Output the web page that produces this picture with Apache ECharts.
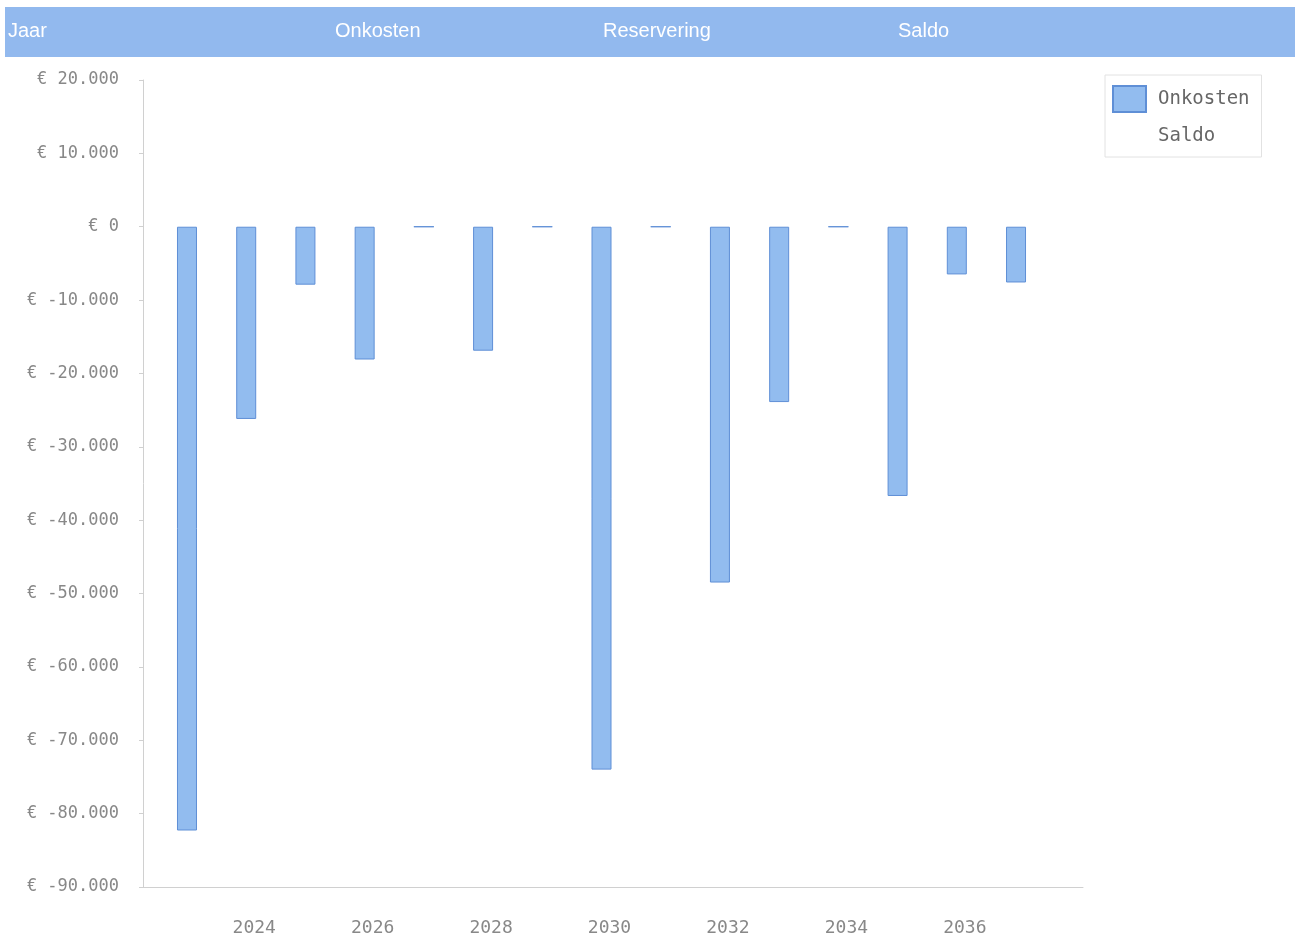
<!DOCTYPE html>
<html>
<head>
<meta charset="utf-8">
<script src="https://cdn.jsdelivr.net/npm/echarts@6/dist/echarts.min.js"></script>
<style>
html,body{margin:0;padding:0;background:#fff;}
#chart{width:1298px;height:945px;}
</style>
</head>
<body>
<div id="chart"></div>
<script>
var years = [2023, 2024, 2025, 2026, 2027, 2028, 2029, 2030, 2031, 2032, 2033, 2034, 2035, 2036, 2037];
var onkosten = [-82300, -26200, -7900, -18100, 0, -16900, 0, -74000, 0, -48500, -23900, 0, -36700, -6500, -7600];
var saldo = [];
var headerLabels = ['Jaar', 'Onkosten', 'Reservering', 'Saldo'];
var xTickLabels = [2024, 2026, 2028, 2030, 2032, 2034, 2036];

var headerX = [8, 335, 603, 898];

function euro(v) {
  var s = Math.abs(v).toString().replace(/\B(?=(\d{3})+(?!\d))/g, '.');
  return '€ ' + (v < 0 ? '-' : '') + s;
}

var chart = echarts.init(document.getElementById('chart'), null, {renderer: 'canvas'});
var graphics = [{
  type: 'rect', left: 5, top: 7, shape: {width: 1290, height: 50},
  style: {fill: '#92b9ee'}, silent: true
}];
headerLabels.forEach(function (t, i) {
  graphics.push({
    type: 'text', left: headerX[i], top: 21,
    style: {text: t, fill: '#ffffff', font: '20px "Liberation Sans", Arial, sans-serif'}
  });
});

chart.setOption({
  backgroundColor: '#ffffff',
  animation: false,
  graphic: graphics,
  grid: {left: 143, right: 215, top: 80, bottom: 58, containLabel: false},
  legend: {
    orient: 'vertical', left: 1105, top: 75,
    padding: [10, 12, 8, 7],
    itemWidth: 33, itemHeight: 26, itemGap: 10,
    icon: 'rect',
    borderColor: '#e2e2e2', borderWidth: 1,
    textStyle: {fontFamily: '"DejaVu Sans Mono", monospace', fontSize: 19, color: '#666', padding: [0, 0, 0, 7]},
    data: ['Onkosten', 'Saldo']
  },
  xAxis: {
    type: 'value',
    min: 2022.257, max: 2038.131,
    splitLine: {show: false},
    axisLine: {onZero: false, lineStyle: {color: '#d0d0d0'}},
    axisTick: {show: false},
    axisLabel: {
      customValues: xTickLabels,
      color: '#888', fontSize: 18, margin: 32,
      fontFamily: '"DejaVu Sans Mono", monospace',
      padding: [0, 0, 0, 16],
      formatter: function (v) { return String(v); }
    }
  },
  yAxis: {
    type: 'value', min: -90000, max: 20000, interval: 10000,
    splitLine: {show: false},
    axisLine: {show: true, lineStyle: {color: '#d0d0d0'}},
    axisTick: {show: true, length: 4, lineStyle: {color: '#d0d0d0'}},
    axisLabel: {
      color: '#888', fontSize: 17, margin: 24,
      fontFamily: '"DejaVu Sans Mono", monospace',
      formatter: euro
    }
  },
  series: [{
    name: 'Onkosten', type: 'bar', barWidth: 20,
    data: years.map(function (y, i) { return [y, onkosten[i]]; }),
    itemStyle: {color: '#92bcef', borderColor: '#5f8fd6', borderWidth: 1}
  }, {
    name: 'Saldo', type: 'line',
    data: saldo,
    itemStyle: {color: '#ffffff'}, lineStyle: {color: '#ffffff'}
  }]
});
</script>
</body>
</html>
